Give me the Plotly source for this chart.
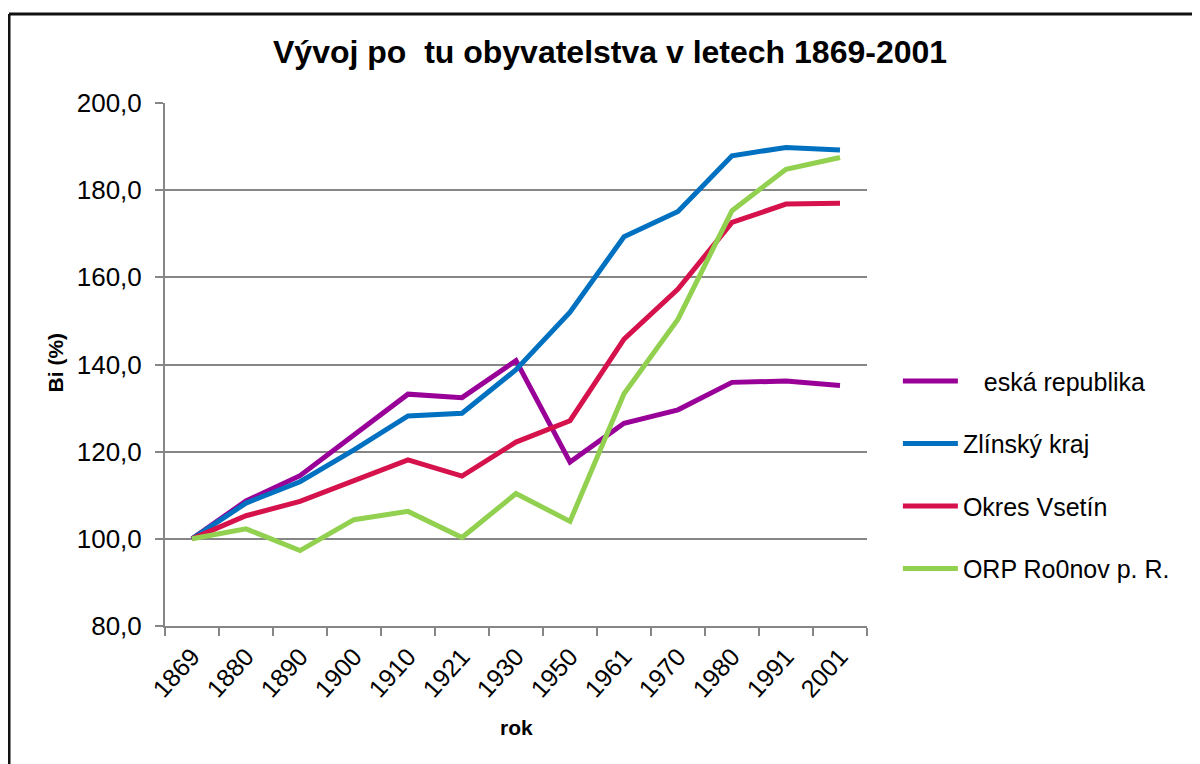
import plotly.graph_objects as go

# Data (index, 1869 = 100)
roky = ["1869", "1880", "1890", "1900", "1910", "1921", "1930",
        "1950", "1961", "1970", "1980", "1991", "2001"]
ceska_republika = [100.0, 108.7, 114.5, 123.9, 133.2, 132.4, 140.9,
                   117.6, 126.5, 129.6, 135.9, 136.2, 135.2]
zlinsky_kraj = [100.0, 108.2, 113.1, 120.4, 128.2, 128.8, 138.8,
                152.0, 169.3, 175.1, 187.9, 189.8, 189.2]
okres_vsetin = [100.0, 105.3, 108.6, 113.5, 118.1, 114.4, 122.2,
                127.1, 145.8, 157.3, 172.6, 176.8, 177.0]
orp_roznov = [100.0, 102.3, 97.3, 104.4, 106.3, 100.3, 110.4,
              104.0, 133.3, 150.4, 175.3, 184.8, 187.5]

series = [
    ("\u00a0\u00a0\u00a0eská republika", ceska_republika, "#980098"),
    ("Zlínský kraj", zlinsky_kraj, "#0070C0"),
    ("Okres Vsetín", okres_vsetin, "#D5124B"),
    ("ORP Ro0nov p. R.", orp_roznov, "#92D050"),
]

FONT = "Liberation Sans, Arial, sans-serif"
GRID = "#868686"

fig = go.Figure()
for i, (name, vals, color) in enumerate(series):
    fig.add_trace(go.Scatter(
        x=roky,
        y=vals,
        mode="lines",
        name=name,
        legendgroup=f"g{i}",
        line=dict(color=color, width=5),
    ))

# page has an 8px body margin, so margins are trimmed by 8
fig.update_layout(
    width=1200,
    height=764,
    margin=dict(l=157, r=341, t=95, b=146),
    paper_bgcolor="white",
    plot_bgcolor="white",
    separators=", ",
    font=dict(family=FONT, color="black"),
    title=dict(
        text="<b>Vývoj po\u00a0\u00a0tu obyvatelstva v letech 1869-2001</b>",
        font=dict(size=32, family=FONT, color="black"),
        xref="container", yref="container",
        x=0.5017, y=0.9424, xanchor="center", yanchor="middle",
    ),
    xaxis=dict(
        type="category",
        range=[-0.5, 12.5],
        showgrid=False,
        showline=True,
        linecolor=GRID,
        linewidth=2,
        ticks="outside",
        tickson="boundaries",
        ticklen=8,
        tickcolor=GRID,
        tickwidth=2,
        tickangle=-48,
        ticklabelstandoff=4,
        tickfont=dict(size=25, family=FONT, color="black"),
    ),
    yaxis=dict(
        range=[80, 200],
        dtick=20,
        tickformat=".1f",
        showgrid=True,
        gridcolor=GRID,
        gridwidth=2,
        showline=True,
        linecolor=GRID,
        linewidth=2,
        ticks="outside",
        ticklen=8,
        tickcolor=GRID,
        tickwidth=2,
        zeroline=False,
        ticklabelstandoff=8,
        tickfont=dict(size=26, family=FONT, color="black"),
    ),
    showlegend=True,
    legend=dict(
        x=1.044, y=0.289,
        xanchor="left", yanchor="middle",
        traceorder="grouped",
        tracegroupgap=27,
        font=dict(size=25, family=FONT, color="black"),
        bgcolor="rgba(0,0,0,0)",
        itemwidth=55,
    ),
    annotations=[
        dict(text="<b>Bi (%)</b>", xref="paper", yref="paper",
             x=-0.1567, y=0.504, textangle=-90, showarrow=False,
             font=dict(size=21, family=FONT, color="black"),
             xanchor="center", yanchor="middle"),
        dict(text="<b>rok</b>", xref="paper", yref="paper",
             x=0.5, y=-0.195, showarrow=False,
             font=dict(size=21, family=FONT, color="black"),
             xanchor="center", yanchor="middle"),
    ],
    shapes=[
        # chart frame (top and left edges visible in the picture)
        dict(type="line", xref="paper", yref="paper",
             x0=-0.2222, y0=1.1702, x1=1.5, y1=1.1702,
             line=dict(color="#111111", width=3)),
        dict(type="line", xref="paper", yref="paper",
             x0=-0.2222, y0=1.1702, x1=-0.2222, y1=-0.3,
             line=dict(color="#111111", width=3)),
    ],
)

fig.write_html("out.html")
